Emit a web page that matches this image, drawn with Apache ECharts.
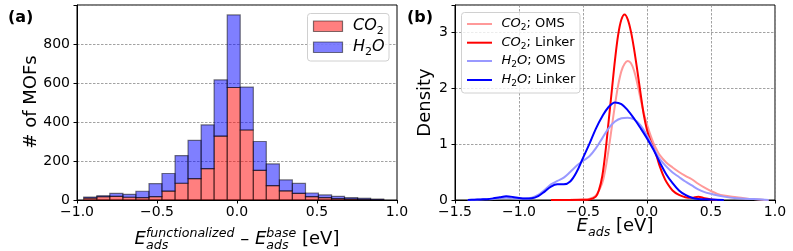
<!DOCTYPE html>
<html><head><meta charset="utf-8">
<script src="https://cdn.jsdelivr.net/npm/echarts@6/dist/echarts.min.js"></script>
<style>html,body{margin:0;padding:0;background:#fff}#c{width:793px;height:251px}</style>
</head><body><div id="c"></div>
<script>
// ---------- Panel (a): histogram ----------
const binEdges = [-0.958,-0.876,-0.795,-0.713,-0.632,-0.550,-0.469,-0.387,-0.306,-0.224,-0.143,-0.061,0.020,0.102,0.183,0.265,0.346,0.428,0.509,0.591,0.672,0.754,0.835,0.917];
const co2Counts = [10,17,19,14,12,17,46,86,110,161,328,577,359,152,74,47,34,17,12,7,5,3,2];
const h2oCounts = [5,5,15,15,33,67,90,142,196,224,288,372,220,148,111,56,51,19,14,12,7,6,3];
const histXTicks = [-1.0,-0.5,0.0,0.5,1.0];
const histYTicks = [0,200,400,600,800];

// ---------- Panel (b): density curves ----------
const co2OmsX = [-0.75,-0.6,-0.5,-0.45,-0.4,-0.35,-0.325,-0.3,-0.275,-0.25,-0.225,-0.2,-0.175,-0.15,-0.125,-0.1,-0.075,-0.05,-0.025,0,0.025,0.05,0.075,0.1,0.15,0.2,0.25,0.3,0.35,0.4,0.45,0.5,0.55,0.6,0.7,0.8,0.9,0.95];
const co2OmsY = [0,0.002,0.008,0.02,0.08,0.3,0.55,0.9,1.3,1.7,2.05,2.3,2.43,2.48,2.44,2.3,2.07,1.8,1.55,1.35,1.17,1.02,0.9,0.8,0.67,0.58,0.5,0.43,0.37,0.29,0.22,0.16,0.11,0.08,0.05,0.02,0.005,0];
const co2LinkerX = [-0.75,-0.6,-0.5,-0.45,-0.4,-0.375,-0.35,-0.325,-0.3,-0.275,-0.25,-0.225,-0.2,-0.175,-0.15,-0.125,-0.1,-0.075,-0.05,-0.025,0,0.025,0.05,0.075,0.1,0.125,0.15,0.2,0.25,0.3,0.35,0.4,0.45,0.5,0.55];
const co2LinkerY = [0,0.001,0.004,0.01,0.06,0.18,0.42,0.85,1.4,1.95,2.5,2.95,3.22,3.31,3.22,3.0,2.68,2.3,1.9,1.52,1.25,1.07,0.93,0.78,0.6,0.45,0.33,0.17,0.09,0.05,0.04,0.06,0.03,0.01,0];
const h2oOmsX = [-1.4,-1.3,-1.2,-1.1,-1.0,-0.95,-0.9,-0.85,-0.8,-0.75,-0.7,-0.65,-0.6,-0.55,-0.5,-0.45,-0.4,-0.35,-0.3,-0.25,-0.2,-0.15,-0.1,-0.05,0,0.05,0.1,0.15,0.2,0.25,0.3,0.35,0.4,0.45,0.5,0.6,0.7,0.8,0.9,0.95];
const h2oOmsY = [0,0.01,0.02,0.04,0.025,0.025,0.04,0.09,0.18,0.28,0.34,0.4,0.5,0.61,0.7,0.78,0.92,1.1,1.28,1.4,1.46,1.47,1.44,1.33,1.15,0.93,0.73,0.6,0.49,0.41,0.33,0.26,0.19,0.14,0.11,0.06,0.03,0.02,0.01,0];
const h2oLinkerX = [-1.4,-1.35,-1.3,-1.25,-1.2,-1.15,-1.1,-1.05,-1.0,-0.95,-0.9,-0.85,-0.8,-0.75,-0.7,-0.65,-0.6,-0.55,-0.5,-0.45,-0.4,-0.35,-0.3,-0.25,-0.2,-0.15,-0.1,-0.05,0,0.05,0.1,0.15,0.2,0.25,0.3,0.35,0.4,0.5,0.6];
const h2oLinkerY = [0,0.005,0.01,0.015,0.03,0.05,0.065,0.055,0.035,0.025,0.03,0.07,0.15,0.24,0.28,0.28,0.33,0.5,0.75,1.0,1.27,1.49,1.66,1.74,1.71,1.6,1.45,1.28,1.1,0.9,0.67,0.46,0.3,0.17,0.09,0.04,0.02,0.01,0];
const densXTicks = [-1.5,-1.0,-0.5,0.0,0.5,1.0];
const densYTicks = [0,1,2,3];

const FONT = '"DejaVu Sans"';
const meas = document.createElement('canvas').getContext('2d');
function tw(t, s, it, b){ meas.font = (it?'italic ':'')+(b?'bold ':'')+s+'px '+FONT; return meas.measureText(t).width; }
function txt(t, x, baseline, s, it, extra){
  return Object.assign({type:'text', x:x, y:baseline - 0.36*s, z:100, style:{text:t, font:(it?'italic ':'')+s+'px '+FONT, fill:'#000', align:'left', verticalAlign:'middle'}}, extra||{});
}
// parts: {t,s,it} or {sup,sub,s}
function mathLine(parts, cx, baseline){
  let w = 0;
  parts.forEach(p=>{ if(p.t!==undefined) w += tw(p.t,p.s,p.it); else w += Math.max(tw(p.sup||'',p.s,true), tw(p.sub||'',p.s,true)); });
  let x = cx - w/2; const els=[];
  parts.forEach(p=>{
    if(p.t!==undefined){ els.push(txt(p.t,x,baseline+(p.dy||0),p.s,p.it)); x += tw(p.t,p.s,p.it); }
    else {
      if(p.sup) els.push(txt(p.sup,x,baseline-p.up,p.s,true));
      if(p.sub) els.push(txt(p.sub,x,baseline+p.down,p.s,true));
      x += Math.max(tw(p.sup||'',p.s,true), tw(p.sub||'',p.s,true));
    }
  });
  return els;
}
function mathLeft(parts, x0, baseline){
  let x = x0; const els=[];
  parts.forEach(p=>{ els.push(txt(p.t,x,baseline+(p.dy||0),p.s,p.it)); x += tw(p.t,p.s,p.it); });
  return els;
}

const fmtX = v => (v<0?'\u2212':'') + Math.abs(v).toFixed(1);

const histRed = co2Counts.map((c,i)=>[binEdges[i], binEdges[i+1], 0, c]);
const histBlue = h2oCounts.map((h,i)=>[binEdges[i], binEdges[i+1], co2Counts[i], co2Counts[i]+h]);
function rectItem(fill){
  return function(params, api){
    const p1 = api.coord([api.value(0), api.value(3)]);
    const p2 = api.coord([api.value(1), api.value(2)]);
    return {type:'rect', shape:{x:p1[0], y:p1[1], width:p2[0]-p1[0], height:p2[1]-p1[1]},
      style:{fill:fill, stroke:'rgba(0,0,0,0.5)', lineWidth:1.2}};
  };
}
const pairs = (xs,ys)=>xs.map((x,i)=>[x,ys[i]]);

const axisCommon = {
  axisLine:{show:true, onZero:false, lineStyle:{color:'#000', width:1}},
  axisTick:{show:true, length:3.5, inside:false, lineStyle:{color:'#000', width:1}},
};
const gridLine = {show:true, lineStyle:{color:'#8a8a8a', width:0.8, type:[2.5,1.5]}};

const graphics = [];
graphics.push({type:'text', x:8, y:18, z:100, style:{text:'(a)', font:'bold 16px '+FONT, fill:'#000', verticalAlign:'middle'}});
graphics.push({type:'text', x:407, y:18, z:100, style:{text:'(b)', font:'bold 16px '+FONT, fill:'#000', verticalAlign:'middle'}});
graphics.push({type:'text', x:31.5, y:102, rotation:Math.PI/2, z:100, style:{text:'# of MOFs', font:'18px '+FONT, fill:'#000', align:'center', verticalAlign:'middle'}});
graphics.push({type:'text', x:425.5, y:102.5, rotation:Math.PI/2, z:100, style:{text:'Density', font:'18px '+FONT, fill:'#000', align:'center', verticalAlign:'middle'}});
// x-axis titles
mathLine([
  {t:'E',s:18,it:true},{sup:'functionalized',sub:'ads',s:12.6,up:8,down:4},
  {t:' \u2013 ',s:18},{t:'E',s:18,it:true},{sup:'base',sub:'ads',s:12.6,up:8,down:4},{t:' [eV]',s:18}
], 237, 246).forEach(e=>graphics.push(e));
mathLine([{t:'E',s:18,it:true},{sub:'ads',s:12.6,down:4},{t:' [eV]',s:18}], 615, 233).forEach(e=>graphics.push(e));

// legend (a)
graphics.push({type:'rect', z:90, shape:{x:307.5,y:13.5,width:81.5,height:47.5,r:3}, style:{fill:'rgba(255,255,255,0.8)', stroke:'#d0d0d0', lineWidth:1}});
graphics.push({type:'rect', z:95, shape:{x:313.5,y:21,width:29,height:10.5}, style:{fill:'rgba(255,0,0,0.5)', stroke:'rgba(0,0,0,0.5)', lineWidth:1.2}});
graphics.push({type:'rect', z:95, shape:{x:313.5,y:42,width:29,height:10.5}, style:{fill:'rgba(0,0,255,0.5)', stroke:'rgba(0,0,0,0.5)', lineWidth:1.2}});
mathLeft([{t:'CO',s:16,it:true},{t:'2',s:11,dy:3}], 353, 32).forEach(e=>graphics.push(e));
mathLeft([{t:'H',s:16,it:true},{t:'2',s:11,dy:3},{t:'O',s:16,it:true}], 353, 53).forEach(e=>graphics.push(e));
// legend (b)
graphics.push({type:'rect', z:90, shape:{x:461.5,y:12.5,width:118.5,height:80.5,r:3}, style:{fill:'rgba(255,255,255,0.8)', stroke:'#d0d0d0', lineWidth:1}});
const legB = [
  {c:'#ff9999', y:24, p:[{t:'CO',s:13,it:true},{t:'2',s:9,dy:2.5},{t:'; OMS',s:13}]},
  {c:'#ff0000', y:42.7, p:[{t:'CO',s:13,it:true},{t:'2',s:9,dy:2.5},{t:'; Linker',s:13}]},
  {c:'#9999ff', y:61, p:[{t:'H',s:13,it:true},{t:'2',s:9,dy:2.5},{t:'O',s:13,it:true},{t:'; OMS',s:13}]},
  {c:'#0000ff', y:80, p:[{t:'H',s:13,it:true},{t:'2',s:9,dy:2.5},{t:'O',s:13,it:true},{t:'; Linker',s:13}]},
];
legB.forEach(L=>{
  graphics.push({type:'line', z:95, shape:{x1:467,y1:L.y,x2:492,y2:L.y}, style:{stroke:L.c, lineWidth:2}});
  mathLeft(L.p, 501.5, L.y+4.7).forEach(e=>graphics.push(e));
});

const chart = echarts.init(document.getElementById('c'), null, {renderer:'canvas'});
chart.setOption({
  animation:false,
  backgroundColor:'#fff',
  textStyle:{fontFamily:FONT},
  grid:[
    {left:77, right:396, top:5, bottom:51, show:true, borderColor:'#000', borderWidth:1, backgroundColor:'transparent'},
    {left:455, right:18, top:5, bottom:51, show:true, borderColor:'#000', borderWidth:1, backgroundColor:'transparent'}
  ],
  xAxis:[
    Object.assign({type:'value', gridIndex:0, min:-1, max:1, interval:0.5,
      axisLabel:{fontSize:14, color:'#000', margin:5, fontFamily:FONT, formatter:v=>histXTicks.some(t=>Math.abs(t-v)<1e-9)?fmtX(v):''},
      splitLine:{show:false}}, axisCommon),
    Object.assign({type:'value', gridIndex:1, min:-1.5, max:1.0, interval:0.5,
      axisLabel:{fontSize:14, color:'#000', margin:5, fontFamily:FONT, formatter:v=>densXTicks.some(t=>Math.abs(t-v)<1e-9)?fmtX(v):''},
      splitLine:gridLine}, axisCommon)
  ],
  yAxis:[
    Object.assign({type:'value', gridIndex:0, min:0, max:1000, interval:200,
      axisLabel:{fontSize:14, color:'#000', margin:7, fontFamily:FONT, formatter:v=>histYTicks.includes(v)?String(v):''},
      splitLine:gridLine}, axisCommon),
    Object.assign({type:'value', gridIndex:1, min:0, max:3.48, interval:1,
      axisLabel:{fontSize:14, color:'#000', margin:7, fontFamily:FONT, formatter:v=>densYTicks.includes(v)?String(v):''},
      splitLine:gridLine}, axisCommon)
  ],
  series:[
    {type:'custom', xAxisIndex:0, yAxisIndex:0, renderItem:rectItem('rgba(255,0,0,0.5)'), data:histRed, encode:{x:[0,1], y:[2,3]}, z:3},
    {type:'custom', xAxisIndex:0, yAxisIndex:0, renderItem:rectItem('rgba(0,0,255,0.5)'), data:histBlue, encode:{x:[0,1], y:[2,3]}, z:3},
    {type:'line', xAxisIndex:1, yAxisIndex:1, data:pairs(co2OmsX,co2OmsY), smooth:0.35, showSymbol:false, lineStyle:{color:'#ff9999', width:2}, z:3},
    {type:'line', xAxisIndex:1, yAxisIndex:1, data:pairs(co2LinkerX,co2LinkerY), smooth:0.35, showSymbol:false, lineStyle:{color:'#ff0000', width:2}, z:4},
    {type:'line', xAxisIndex:1, yAxisIndex:1, data:pairs(h2oOmsX,h2oOmsY), smooth:0.35, showSymbol:false, lineStyle:{color:'#9999ff', width:2}, z:5},
    {type:'line', xAxisIndex:1, yAxisIndex:1, data:pairs(h2oLinkerX,h2oLinkerY), smooth:0.35, showSymbol:false, lineStyle:{color:'#0000ff', width:2}, z:6}
  ],
  graphic:graphics
});
</script></body></html>
